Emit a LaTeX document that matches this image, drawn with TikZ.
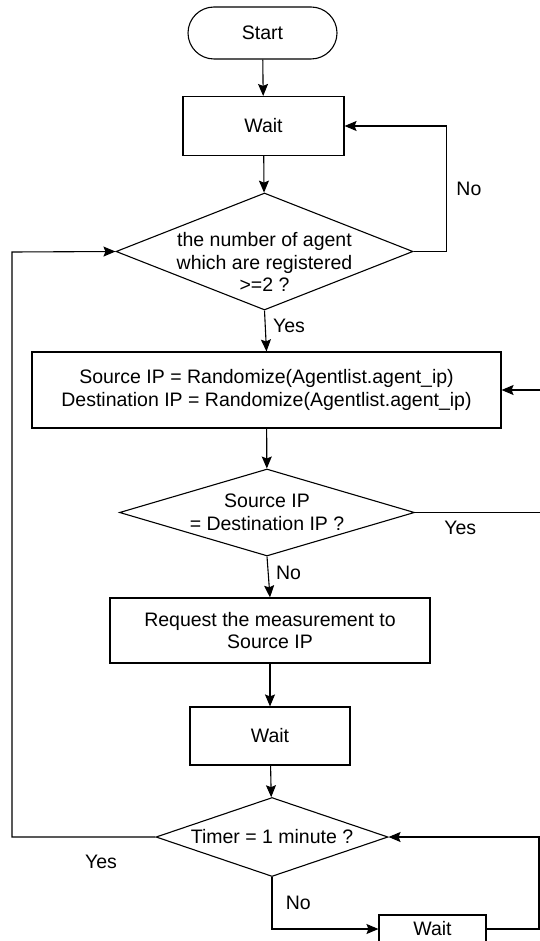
\documentclass[tikz,border=0pt]{standalone}
\usepackage{fontspec}
\setmainfont{Liberation Sans}
\usetikzlibrary{shapes.geometric, arrows.meta}

\begin{document}
\begin{tikzpicture}[
      x=1pt, y=-1pt,
      every node/.style={font=\fontsize{19.5}{22.5}\selectfont},
      box/.style={draw, line width=1.1pt, align=center, inner sep=0pt},
      decision/.style={draw, diamond, line width=1.1pt, align=center, inner sep=-40pt},
      arr/.style={-{Stealth[length=12pt, width=10pt, inset=2pt]}, line width=1.1pt}
    ]
      \useasboundingbox (0,0) rectangle (540,941);
      % Start
      \node[box, rounded corners=26pt, minimum width=149pt, minimum height=52pt]
        (start) at (262.5,33) {Start};
      % first wait
      \node[box, minimum width=161pt, minimum height=59pt] (wait1) at (263.5,126) {Wait};
      % agents registered?
      \node[decision, minimum width=297pt, minimum height=117pt, text height=80pt] (q1) at (264.5,251.5)
        {the number of agent\\which are registered\\>=2 ?};
      % random source / destination
      \node[box, minimum width=469pt, minimum height=76pt] (rand) at (266.5,390)
        {Source IP = Randomize(Agentlist.agent\_ip)\\Destination IP = Randomize(Agentlist.agent\_ip)};
      % same address?
      \node[decision, minimum width=295pt, minimum height=87pt] (q2) at (267,512.5)
        {Source IP\\= Destination IP ?};
      % request
      \node[box, minimum width=320pt, minimum height=65pt] (req) at (270,630.5)
        {Request the measurement to\\Source IP};
      % second wait
      \node[box, minimum width=160pt, minimum height=58pt] (wait2) at (270,736) {Wait};
      % timer
      \node[decision, minimum width=232pt, minimum height=79pt] (q3) at (272,837)
        {Timer = 1 minute ?};
      % third wait
      \node[box, minimum width=107pt, minimum height=28pt] (wait3) at (432.5,929) {Wait};

      \coordinate (lft) at (12,252);
      \coordinate (rgt) at (548,512.5);
      \coordinate (loop) at (539,929);

      \draw[arr] (start) -- (wait1);
      \draw[arr] (wait1) -- (q1);
      \draw[arr] (q1.east) -- ++(33,0) |- node[right=6pt, pos=0.25] (no1) {No} (wait1.east);
      \draw[arr] (q1.south) -- node[right=4pt, pos=0.38] (yes1) {Yes} (rand.north);
      \draw[arr] (rand) -- (q2);
      \draw[arr] (q2.east) -- node[below=5pt, pos=0.34] (yes2) {Yes} (rgt) |- (rand.east);
      \draw[arr] (q2.south) -- node[right=4pt, pos=0.4] (no2) {No} (req.north);
      \draw[arr] (req) -- (wait2);
      \draw[arr] (wait2) -- (q3);
      \draw[arr] (q3.west) -| node[below=14pt, pos=0.19] (yes3) {Yes} (lft) -- (q1.west);
      \draw[arr] (q3.south) |- node[right=10pt, pos=0.25] (no3) {No} (wait3.west);
      \draw[arr] (wait3.east) -- (loop) |- (q3.east);
    \end{tikzpicture}
\end{document}
